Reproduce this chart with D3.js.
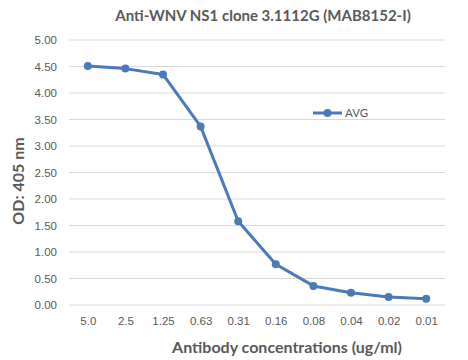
<!DOCTYPE html>
<html lang="en">
<head>
<meta charset="utf-8">
<title>Anti-WNV NS1</title>
<script src="https://d3js.org/d3.v7.min.js"></script>
<style>
  body { margin: 0; background: #fff; }
  svg { font-family: Lato, "Open Sans", sans-serif; }
  .tick text { fill: #595959; font-size: 11.5px; }
  .title { fill: #595959; font-size: 15px; font-weight: bold; }
  .axis-title { fill: #595959; font-size: 16px; font-weight: bold; }
</style>
</head>
<body>
<div id="chart"></div>
<script>
// concentrations (ug/ml) and mean OD at 405 nm
const concentrations = ["5.0", "2.5", "1.25", "0.63", "0.31", "0.16", "0.08", "0.04", "0.02", "0.01"];
const avg = [4.51, 4.46, 4.35, 3.37, 1.58, 0.77, 0.36, 0.23, 0.15, 0.12];
const yTicks = [0, 0.5, 1, 1.5, 2, 2.5, 3, 3.5, 4, 4.5, 5];

const w = 468, h = 360;
const margin = {top: 40, right: 23, bottom: 55, left: 69};

const svg = d3.select("#chart").append("svg")
    .attr("width", w)
    .attr("height", h);

const x = d3.scalePoint()
    .domain(concentrations)
    .range([margin.left, w - margin.right])
    .padding(0.5);

const y = d3.scaleLinear()
    .domain([0, 5])
    .range([h - margin.bottom, margin.top]);

// gridlines
svg.append("g")
    .selectAll("line")
    .data(yTicks)
    .join("line")
    .attr("x1", margin.left)
    .attr("x2", w - margin.right)
    .attr("y1", d => y(d))
    .attr("y2", d => y(d))
    .attr("stroke", "#d9d9d9")
    .attr("stroke-width", 1);

// y axis labels
const yAxis = svg.append("g")
    .attr("transform", `translate(${margin.left},0)`)
    .call(d3.axisLeft(y).tickValues(yTicks).tickFormat(d3.format(".2f")).tickSize(0).tickPadding(12));
yAxis.select(".domain").remove();

// x axis labels
const xAxis = svg.append("g")
    .attr("transform", `translate(0,${h - margin.bottom})`)
    .call(d3.axisBottom(x).tickSize(0).tickPadding(12));
xAxis.select(".domain").remove();

// the curve
const line = d3.line()
    .x((d, i) => x(concentrations[i]))
    .y(d => y(d));

svg.append("path")
    .datum(avg)
    .attr("d", line)
    .attr("fill", "none")
    .attr("stroke", "#4a7ab8")
    .attr("stroke-width", 3)
    .attr("stroke-linejoin", "round");

svg.selectAll(".pt")
    .data(avg)
    .join("circle")
    .attr("class", "pt")
    .attr("cx", (d, i) => x(concentrations[i]))
    .attr("cy", d => y(d))
    .attr("r", 4)
    .attr("fill", "#4a7ab8");

// legend
const lg = svg.append("g").attr("transform", "translate(313,113)");
lg.append("line")
    .attr("x1", 0).attr("x2", 29)
    .attr("stroke", "#4a7ab8").attr("stroke-width", 3);
lg.append("circle").attr("cx", 14.5).attr("r", 4).attr("fill", "#4a7ab8");
lg.append("text")
    .attr("x", 32).attr("dy", "0.35em")
    .attr("fill", "#595959").style("font-size", "11.5px")
    .text("AVG");

// titles
svg.append("text")
    .attr("class", "title")
    .attr("x", 263).attr("y", 21)
    .attr("text-anchor", "middle")
    .text("Anti-WNV NS1 clone 3.1112G (MAB8152-I)");

svg.append("text")
    .attr("class", "axis-title")
    .attr("x", 287).attr("y", 353)
    .attr("text-anchor", "middle")
    .text("Antibody concentrations (ug/ml)");

svg.append("text")
    .attr("class", "axis-title")
    .attr("transform", "translate(24,181) rotate(-90)")
    .attr("text-anchor", "middle")
    .text("OD: 405 nm");
</script>
</body>
</html>
